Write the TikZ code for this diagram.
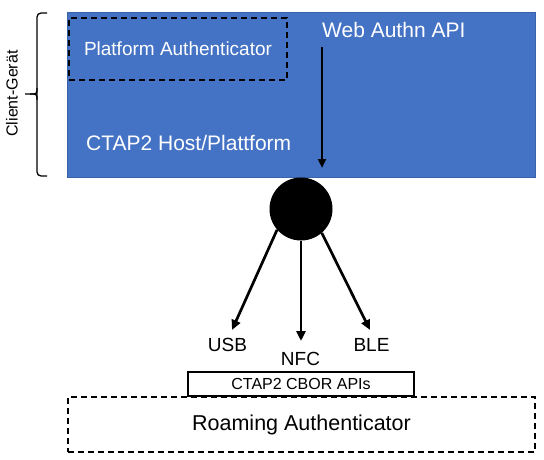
\documentclass[tikz,border=0pt]{standalone}
\usepackage{fontspec}
\setmainfont{Liberation Sans}
\usetikzlibrary{arrows.meta}
\definecolor{hostblue}{HTML}{4472C4}
\definecolor{hostedge}{HTML}{3A62A8}
\tikzset{
  fs/.style={font=\fontsize{#1}{#1}\selectfont},
  dashbox/.style={draw=black, dashed, dash pattern=on 6pt off 4pt, line width=1.4pt},
  bigarrow/.style={line width=2.7pt, -{Triangle[length=10pt,width=9pt]}},
  lbl/.style={inner sep=0pt, fs=19, text=black}
}
\begin{document}
\begin{tikzpicture}[x=1pt,y=-1pt]
\useasboundingbox (0,0) rectangle (544,460);
% host
\node[draw=hostedge, fill=hostblue, line width=0.8pt, minimum width=468pt, minimum height=165pt, inner sep=0pt] (host) at (301,94.5) {};
\node[dashbox, minimum width=218pt, minimum height=62pt, inner sep=0pt, text=white, fs=19] (plat) at (178,49) {Platform Authenticator};
\node[inner sep=0pt, anchor=base west, text=white, fs=21] (webauthn) at (322,38) {Web Authn API};
\node[inner sep=0pt, anchor=base west, text=white, fs=21] (ctaphost) at (86,150) {CTAP2 Host/Plattform};
\coordinate (waStart) at (322,47);
\coordinate (waEnd) at (322,168);
\draw[line width=2.4pt, -{Triangle[length=9pt,width=8pt]}] (waStart) -- (waEnd);
% brace
\node[rotate=90, inner sep=0pt, fs=16] (client) at (12,93.5) {Client-Gerät};
\draw[line width=1.3pt, rounded corners=4pt] (47,13) -- (37,13) -- (37,176) -- (47,176);
\draw[line width=1.3pt, rounded corners=3pt] (37,88) -- (37,94) -- (25,94);
\draw[line width=1.3pt, rounded corners=3pt] (37,100) -- (37,94) -- (30,94);
% hub
\node[circle, fill=black, minimum size=63pt, inner sep=0pt] (hub) at (301,209) {};
\node[lbl, anchor=base] (usb) at (227.5,351) {USB};
\node[lbl, anchor=base] (nfc) at (300.5,365) {NFC};
\node[lbl, anchor=base] (ble) at (371.5,351) {BLE};
\coordinate (tipU) at (232,330);
\coordinate (tipN) at (301,341);
\coordinate (tipB) at (370,330);
\draw[bigarrow] (hub.221) -- (tipU);
\draw[bigarrow] (hub.270) -- (tipN);
\draw[bigarrow] (hub.311) -- (tipB);
% roaming
\node[dashbox, minimum width=467pt, minimum height=55pt, inner sep=0pt, fs=21.5] (roam) at (301.5,424.5) {Roaming Authenticator};
\node[draw=black, fill=white, line width=1.3pt, minimum width=226pt, minimum height=24pt, inner sep=0pt, fs=16] (cbor) at (301,384) {CTAP2 CBOR APIs};
\end{tikzpicture}
\end{document}
